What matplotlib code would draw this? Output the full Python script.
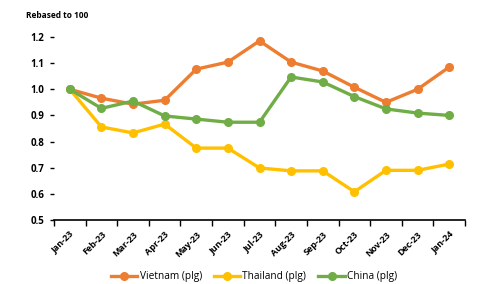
import numpy as np
import matplotlib
matplotlib.use("Agg")
import matplotlib.pyplot as plt

# data
months = ['Jan-23', 'Feb-23', 'Mar-23', 'Apr-23', 'May-23', 'Jun-23', 'Jul-23',
          'Aug-23', 'Sep-23', 'Oct-23', 'Nov-23', 'Dec-23', 'Jan-24']
vietnam = [1.0, 0.966, 0.943, 0.958, 1.077, 1.104, 1.185, 1.104, 1.07, 1.008, 0.95, 1.0, 1.085]
thailand = [1.0, 0.856, 0.833, 0.867, 0.775, 0.775, 0.699, 0.688, 0.688, 0.608, 0.69, 0.69, 0.714]
china = [1.0, 0.927, 0.955, 0.898, 0.886, 0.874, 0.874, 1.047, 1.028, 0.972, 0.925, 0.909, 0.9]
yticks = [0.5, 0.6, 0.7, 0.8, 0.9, 1.0, 1.1, 1.2]

plt.rcParams['font.family'] = ['Open Sans', 'DejaVu Sans']

fig = plt.figure(figsize=(4.79, 2.84), dpi=100)
ax = fig.add_axes([54/479, 1-220/284, 411/479, 183/284])

x = np.arange(len(months))
ax.plot(x, vietnam, color='#ED7D31', lw=2.4, marker='o', ms=5.5, label='Vietnam (plg)')
ax.plot(x, thailand, color='#FFC000', lw=2.4, marker='o', ms=5.5, label='Thailand (plg)')
ax.plot(x, china, color='#70AD47', lw=2.4, marker='o', ms=5.5, label='China (plg)')

ax.set_xlim(-0.5, len(months)-0.5)
ax.set_ylim(0.5, 1.2)
ax.set_yticks(yticks)
ax.set_yticklabels([f'{v:.1f}' for v in yticks], fontsize=7, fontweight='bold')
ax.set_xticks(x)
ax.set_xticklabels(months, rotation=45, ha='right', rotation_mode='anchor',
                   fontsize=6.5, fontweight='bold')
# Excel-style ticks between categories
ax.set_xticks(np.arange(-0.5, len(months)), minor=True)
ax.tick_params(axis='x', which='major', length=0, pad=7)
ax.tick_params(axis='x', which='minor', length=4, width=1, direction='out')
ax.tick_params(axis='y', length=3, width=1, pad=4)

for s in ['top', 'right', 'left']:
    ax.spines[s].set_visible(False)
ax.spines['bottom'].set_linewidth(1.2)

fig.text(26/479, 1-15/284, 'Rebased to 100', fontsize=6, fontweight='bold', va='center')

fig.legend(loc='center', bbox_to_anchor=(254/479, 1-277/284), ncol=3, frameon=False,
           fontsize=7.3, handlelength=2.6, columnspacing=1.2, handletextpad=0.2)

fig.savefig('out.png', dpi=100)
